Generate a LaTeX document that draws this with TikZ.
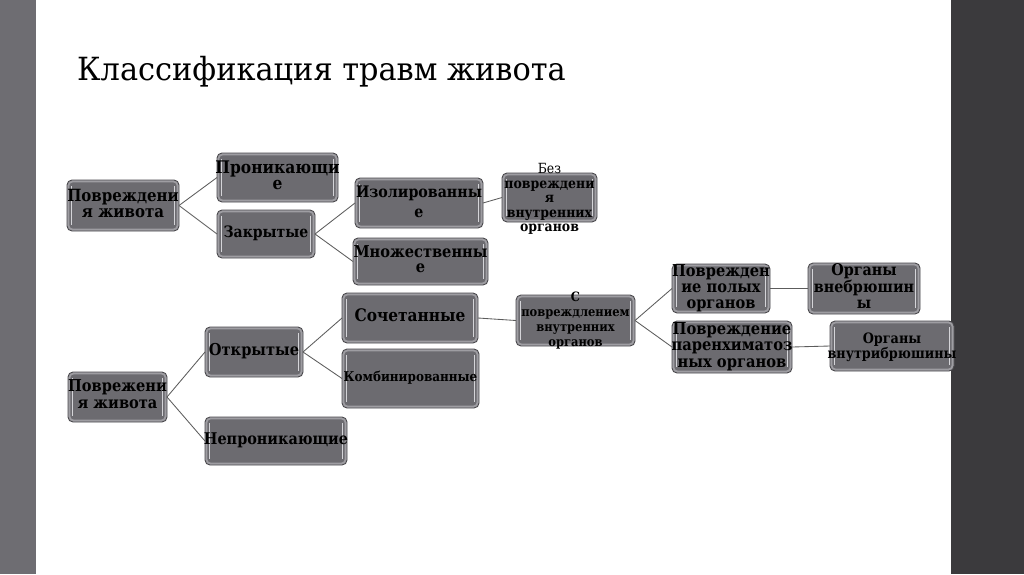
\documentclass[tikz,border=0pt]{standalone}
\usepackage{fontspec}
\setmainfont{DejaVu Serif}
\usetikzlibrary{fit}
\definecolor{barL}{HTML}{6E6D72}
\definecolor{barR}{HTML}{3B3A3D}
\definecolor{boxfill}{HTML}{6C6B70}
\definecolor{boxrim}{HTML}{9E9DA2}
\definecolor{boxedge}{HTML}{4A494D}
\definecolor{hl}{HTML}{D4D4D8}
\definecolor{conn}{HTML}{5C5C5C}
\tikzset{
  box/.style={inner sep=0pt, outer sep=0pt, rounded corners=5pt, draw=boxedge, line width=0.9pt, fill=boxrim,
    path picture={
      \fill[boxfill, rounded corners=3.5pt] ([xshift=2.4pt,yshift=-2.4pt]path picture bounding box.north west) rectangle ([xshift=-2.4pt,yshift=2.4pt]path picture bounding box.south east);
      \draw[hl, line width=1pt] ([xshift=4.2pt,yshift=-6pt]path picture bounding box.north west) -- ([xshift=4.2pt,yshift=6pt]path picture bounding box.south west);
      \draw[hl, line width=1pt] ([xshift=-4.2pt,yshift=-6pt]path picture bounding box.north east) -- ([xshift=-4.2pt,yshift=6pt]path picture bounding box.south east);
    }},
  txt/.style={align=center, inner sep=0pt, text=black},
  conn/.style={draw=conn, line width=0.85pt},
}
\newcommand\vstr{1.12}
\newcommand\mybox[6]{%
  \node[box, fit={#2 #3}] (#1) {};
  \pgfmathsetmacro\lsk{#5/\vstr}%
  \node[txt, font={\fontsize{#4}{\lsk}\selectfont\bfseries}] (#1-t) at (#1.center)
    {\scalebox{1}[\vstr]{\begin{tabular}{@{}c@{}}#6\end{tabular}}};
}
\begin{document}
\begin{tikzpicture}[x=1pt,y=-1pt]
\useasboundingbox (0,0) rectangle (1024,574);
\fill[white] (0,0) rectangle (1024,574);
\fill[barL] (0,0) rectangle (36,574);
\fill[barR] (951,0) rectangle (1024,574);

\node[anchor=base west, inner sep=0pt, font={\fontsize{30.4}{36}\selectfont}] (title) at (77,80) {\scalebox{1}[1.05]{Классификация травм живота}};

% upper tree
\mybox{A1}{(67,180)}{(179,231)}{15}{16}{Повреждени\\я живота}
\mybox{B1}{(217,153)}{(338,202)}{15.5}{16}{Проникающи\\е}
\mybox{B2}{(217,210)}{(315,258)}{14}{16}{Закрытые}
\mybox{C1}{(355,178)}{(483,228)}{14.2}{20}{Изолированны\\е}
\mybox{C2}{(353,238)}{(488,285)}{14.6}{15}{Множественны\\е}
\node[box, fit={(502,173) (597,222)}] (D1) {};
\pgfmathsetmacro\lsk{14.5/\vstr}
\node[txt, font={\fontsize{12.5}{\lsk}\selectfont\bfseries}] (D1-t) at ([yshift=-2.5pt]D1.center)
  {\scalebox{1}[\vstr]{\begin{tabular}{@{}c@{}}{\mdseries Без}\\повреждени\\я\\внутренних\\органов\end{tabular}}};

% lower tree
\mybox{E1}{(68,372)}{(167,422)}{14.6}{17}{Поврежени\\я живота}
\mybox{F1}{(205,327)}{(303,377)}{14.6}{17}{Открытые}
\mybox{F2}{(205,417)}{(347,465)}{14.4}{17}{Непроникающие}
\mybox{G1}{(342,293)}{(478,343)}{15.4}{17}{Сочетанные}
\mybox{G2}{(342,349)}{(479,408)}{12}{14}{Комбинированные}
\mybox{H1}{(516,295)}{(635,346)}{11.5}{15}{С\\повреждлением\\внутренних\\органов}
\mybox{I1}{(672,264)}{(770,313)}{14.6}{16}{Поврежден\\ие полых\\органов}
\mybox{I2}{(672,321)}{(792,373)}{14.7}{16.5}{Повреждение\\паренхиматоз\\ных органов}
\mybox{J1}{(808,263)}{(920,314)}{14.3}{16}{Органы\\внебрюшин\\ы}
\node[box, fit={(830,321) (954,371)}] (J2) {};
\pgfmathsetmacro\lsk{14/\vstr}
\node[txt, font={\fontsize{12.8}{\lsk}\selectfont\bfseries}] (J2-t) at ([yshift=-2pt]J2.center)
  {\scalebox{1}[\vstr]{\begin{tabular}{@{}c@{}}Органы\\внутрибрюшины\end{tabular}}};

% connectors
\draw[conn] (A1.east) -- (B1.west);
\draw[conn] (A1.east) -- (B2.west);
\draw[conn] (B2.east) -- (C1.west);
\draw[conn] (B2.east) -- (C2.west);
\draw[conn] (C1.east) -- (D1.west);
\draw[conn] (E1.east) -- (F1.west);
\draw[conn] (E1.east) -- (F2.west);
\draw[conn] (F1.east) -- (G1.west);
\draw[conn] (F1.east) -- (G2.west);
\draw[conn] (G1.east) -- (H1.west);
\draw[conn] (H1.east) -- (I1.west);
\draw[conn] (H1.east) -- (I2.west);
\draw[conn] (I1.east) -- (J1.west);
\draw[conn] (I2.east) -- (J2.west);
\end{tikzpicture}
\end{document}
